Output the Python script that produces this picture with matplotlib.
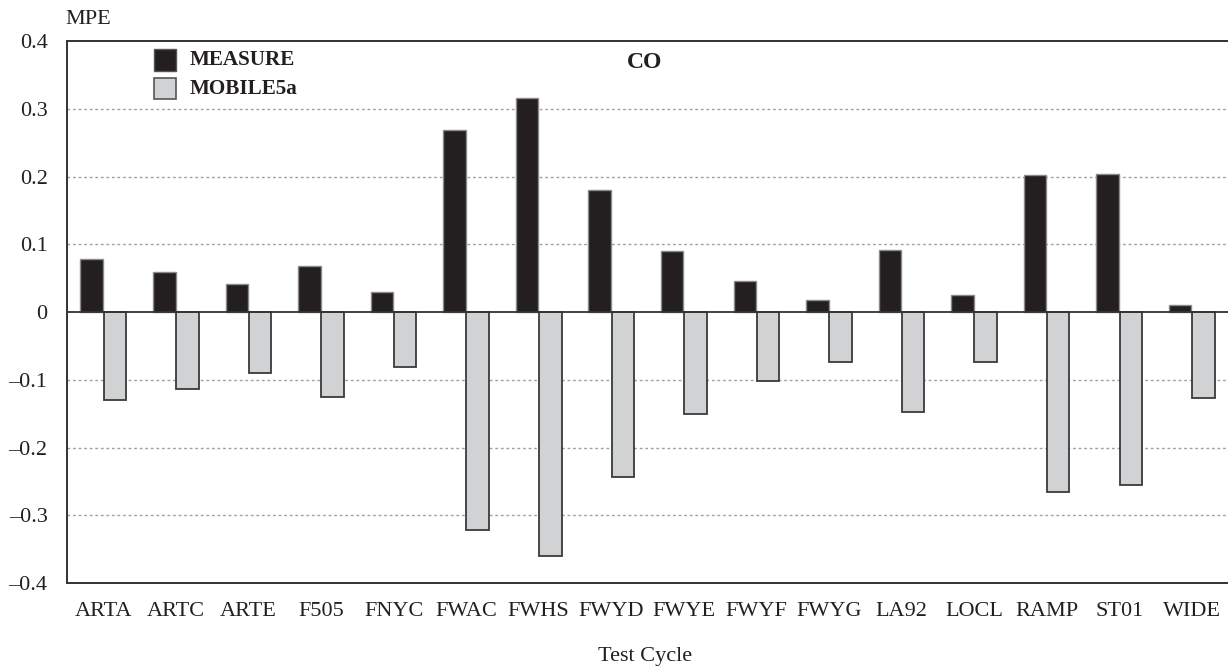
import numpy as np
import matplotlib.pyplot as plt
from matplotlib.patches import Rectangle

cycles = ['ARTA', 'ARTC', 'ARTE', 'F505', 'FNYC', 'FWAC', 'FWHS', 'FWYD',
          'FWYE', 'FWYF', 'FWYG', 'LA92', 'LOCL', 'RAMP', 'ST01', 'WIDE']
measure = [0.078, 0.059, 0.041, 0.068, 0.030, 0.269, 0.316, 0.180,
           0.090, 0.046, 0.018, 0.092, 0.025, 0.202, 0.204, 0.010]
mobile5a = [-0.130, -0.114, -0.090, -0.125, -0.081, -0.322, -0.360, -0.243,
            -0.151, -0.102, -0.074, -0.148, -0.074, -0.266, -0.255, -0.127]
yticks = [-0.4, -0.3, -0.2, -0.1, 0, 0.1, 0.2, 0.3, 0.4]
ytick_labels = ['\u20130.4', '\u20130.3', '\u20130.2', '\u20130.1', '0', '0.1', '0.2', '0.3', '0.4']

plt.rcParams['font.family'] = ['Liberation Serif', 'DejaVu Serif']

fig = plt.figure(figsize=(12.28, 6.68), dpi=100)
ax = fig.add_axes([0.0546, 0.1272, 0.9454, 0.8114])

x = np.arange(len(cycles))
w = 0.31
ax.bar(x - 0.16, measure, w, color='#231f20', edgecolor='#8a8a8a', linewidth=1.0, zorder=3)
ax.bar(x + 0.16, mobile5a, w, color='#d1d2d4', edgecolor='#3a3a3a', linewidth=1.3, zorder=3)

ax.set_xlim(-0.5, len(cycles) - 0.5)
ax.set_ylim(-0.4, 0.4)
ax.set_yticks(yticks)
ax.set_yticklabels(ytick_labels, fontsize=16, color='#231f20')
ax.set_xticks(x)
ax.set_xticklabels(cycles, fontsize=16, color='#231f20')
ax.tick_params(length=0)
ax.tick_params(axis='y', pad=14)
ax.tick_params(axis='x', pad=14)

for v in yticks:
    if v not in (0, 0.4, -0.4):
        ax.axhline(v, color='#a0a0a0', linestyle=(0, (2, 2)), linewidth=1.0, zorder=1)
ax.axhline(0, color='#333333', linewidth=1.3, zorder=4)

ax.spines['right'].set_visible(False)
for s in ['left', 'top', 'bottom']:
    ax.spines[s].set_color('#333333')
    ax.spines[s].set_linewidth(1.4)

fig.text(65 / 1228, 1 - 20 / 668, 'MPE', fontsize=16, color='#231f20', va='center')
fig.text(645 / 1228, 0.907, 'CO', fontsize=17, fontweight='bold', color='#231f20', ha='center', va='center')
fig.text(645 / 1228, 1 - 657 / 668, 'Test Cycle', fontsize=16, color='#231f20', ha='center', va='center')

# legend
fig.patches.append(Rectangle((154 / 1228, 1 - 71 / 668), 22 / 1228, 22 / 668, transform=fig.transFigure,
                             facecolor='#231f20', edgecolor='#555555', linewidth=1))
fig.patches.append(Rectangle((154 / 1228, 1 - 99 / 668), 22 / 1228, 21 / 668, transform=fig.transFigure,
                             facecolor='#d1d2d4', edgecolor='#555555', linewidth=1.2))
fig.text(190 / 1228, 1 - 60 / 668, 'MEASURE', fontsize=15.2, fontweight='bold', color='#231f20', va='center')
fig.text(190 / 1228, 1 - 89 / 668, 'MOBILE5a', fontsize=15.2, fontweight='bold', color='#231f20', va='center')

fig.savefig('out.png', dpi=100)
